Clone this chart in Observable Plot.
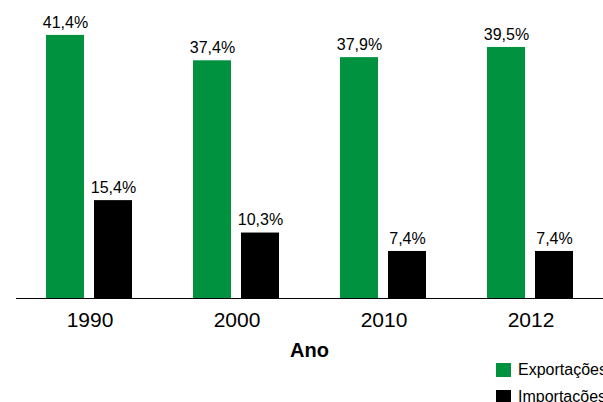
<!DOCTYPE html>
<html>
<head>
<meta charset="utf-8">
<script src="https://cdn.jsdelivr.net/npm/d3@7"></script>
<script src="https://cdn.jsdelivr.net/npm/@observablehq/plot@0.6"></script>
<style>
  html, body { margin: 0; padding: 0; background: #fff; overflow: hidden; }
  #wrap { position: relative; width: 603px; height: 402px; overflow: hidden; font-family: "Liberation Sans", Arial, sans-serif; }
  #chart { width: 620px; }
  #xlabel { position: absolute; left: 0; width: 619px; top: 339px; text-align: center; font-size: 20px; font-weight: bold; color: #000; }
  .leg { position: absolute; left: 496px; font-size: 16px; color: #000; white-space: nowrap; display: flex; align-items: center; }
  .sw { width: 15px; height: 14px; margin-right: 7px; flex: none; }
</style>
</head>
<body>
<div id="wrap">
  <div id="chart"></div>
  <div id="xlabel">Ano</div>
  <div id="legend"></div>
</div>
<script>
const years = ["1990", "2000", "2010", "2012"];
const exportacoes = [41.4, 37.4, 37.9, 39.5];
const importacoes = [15.4, 10.3, 7.4, 7.4];
const series = ["Exportações", "Importações"];
const colors = ["#00923f", "#000000"];

const data = years.flatMap((ano, i) => [
  {ano, serie: series[0], valor: exportacoes[i]},
  {ano, serie: series[1], valor: importacoes[i]}
]);
const fmt = v => v.toFixed(1).replace(".", ",") + "%";

const chart = Plot.plot({
  width: 605,
  height: 402,
  marginLeft: 14,
  marginRight: 0,
  marginTop: 12,
  marginBottom: 104,
  style: {fontFamily: "'Liberation Sans', Arial, sans-serif", background: "#fff", overflow: "visible", maxWidth: "none"},
  fx: {domain: years, padding: 0, axis: null},
  x: {domain: series, axis: null, paddingInner: 0.2, paddingOuter: 0.61},
  y: {domain: [0, 45], axis: null},
  color: {domain: series, range: colors},
  marks: [
    Plot.barY(data, {fx: "ano", x: "serie", y: "valor", fill: "serie"}),
    Plot.text(data, {fx: "ano", x: "serie", y: "valor", text: d => fmt(d.valor), dy: -13, fontSize: 16, fill: "#000"}),
    Plot.ruleY([0], {stroke: "#000", strokeWidth: 1.2}),
    Plot.text(years, {fx: d => d, text: d => d, frameAnchor: "bottom", dy: 28, fontSize: 21, fill: "#000"})
  ]
});
document.getElementById("chart").appendChild(chart);

const legend = document.getElementById("legend");
series.forEach((s, i) => {
  const row = document.createElement("div");
  row.className = "leg";
  row.style.top = (361 + i * 27) + "px";
  const sw = document.createElement("span");
  sw.className = "sw";
  sw.style.background = colors[i];
  const t = document.createElement("span");
  t.textContent = s;
  row.appendChild(sw);
  row.appendChild(t);
  legend.appendChild(row);
});
</script>
</body>
</html>
